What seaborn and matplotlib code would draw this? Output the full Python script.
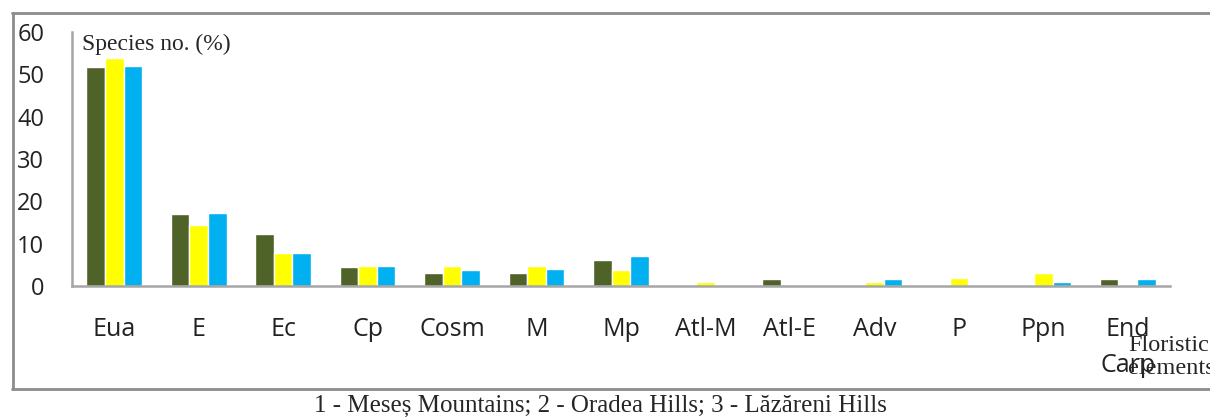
import pandas as pd
import seaborn as sns
import numpy as np
import matplotlib.pyplot as plt
from matplotlib.lines import Line2D

# floristic elements and their share (%) in the three areas
elements = ['Eua', 'E', 'Ec', 'Cp', 'Cosm', 'M', 'Mp', 'Atl-M', 'Atl-E', 'Adv', 'P', 'Ppn', 'End\nCarp']
meses = [51.7, 16.9, 12.2, 4.5, 3.1, 3.1, 6.2, 0, 1.6, 0, 0, 0, 1.6]
oradea = [53.9, 14.3, 7.7, 4.8, 4.8, 4.8, 3.8, 0.9, 0, 0.9, 2.0, 3.1, 0]
lazareni = [52.0, 17.2, 7.7, 4.8, 3.8, 4.1, 7.0, 0, 0, 1.6, 0, 0.9, 1.6]
areas = ['1', '2', '3']
colors = ['#4F6228', '#FFFF00', '#00B0F0']

df = pd.DataFrame({
    'element': elements * 3,
    'area': np.repeat(areas, len(elements)),
    'value': meses + oradea + lazareni,
})

sns.set_style('white')
plt.rcParams['font.family'] = ['Open Sans', 'DejaVu Sans']

fig = plt.figure(figsize=(12.1, 4.19), dpi=100)
ax = fig.add_axes([72 / 1210, 1 - 286 / 419, (1170 - 72) / 1210, (286 - 32) / 419])

sns.barplot(data=df, x='element', y='value', hue='area', palette=colors,
            width=0.66, gap=0, saturation=1, legend=False, ax=ax)

ax.set_ylim(0, 60)
ax.set_xlim(-0.5, len(elements) - 0.5)
ax.set_yticks([0, 10, 20, 30, 40, 50, 60])
ax.set_xlabel('')
ax.set_ylabel('')
for s in ['top', 'right']:
    ax.spines[s].set_visible(False)
for s in ['left', 'bottom']:
    ax.spines[s].set_color('#A6A6A6')
    ax.spines[s].set_linewidth(1.8)
ax.tick_params(axis='y', length=0, pad=20, labelsize=17, labelcolor='#222222')
ax.tick_params(axis='x', length=0, pad=22, labelsize=18, labelcolor='#222222')
for lab in ax.get_xticklabels():
    lab.set_linespacing(1.6)

serif = 'Liberation Serif'
fig.text(82 / 1210, 1 - 44 / 419, 'Species no. (%)', family=serif, fontsize=17,
         va='center', ha='left')
fig.text(1128 / 1210, 1 - 357 / 419, 'Floristic\nelements', family=serif, fontsize=17.5,
         va='center', ha='left', linespacing=1.15)
fig.text(600 / 1210, 1 - 406 / 419, '1 - Meseș Mountains; 2 - Oradea Hills; 3 - Lăzăreni Hills',
         family=serif, fontsize=18, va='center', ha='center')

# grey frame round the chart area
frame = dict(color='#8C8C8C', linewidth=2, transform=fig.transFigure)
fig.add_artist(Line2D([12 / 1210, 1], [1 - 13 / 419, 1 - 13 / 419], **frame))
fig.add_artist(Line2D([13 / 1210, 13 / 1210], [1 - 13 / 419, 1 - 389 / 419], **frame))
fig.add_artist(Line2D([12 / 1210, 1], [1 - 389 / 419, 1 - 389 / 419], **frame))

fig.savefig('out.png', dpi=100)
